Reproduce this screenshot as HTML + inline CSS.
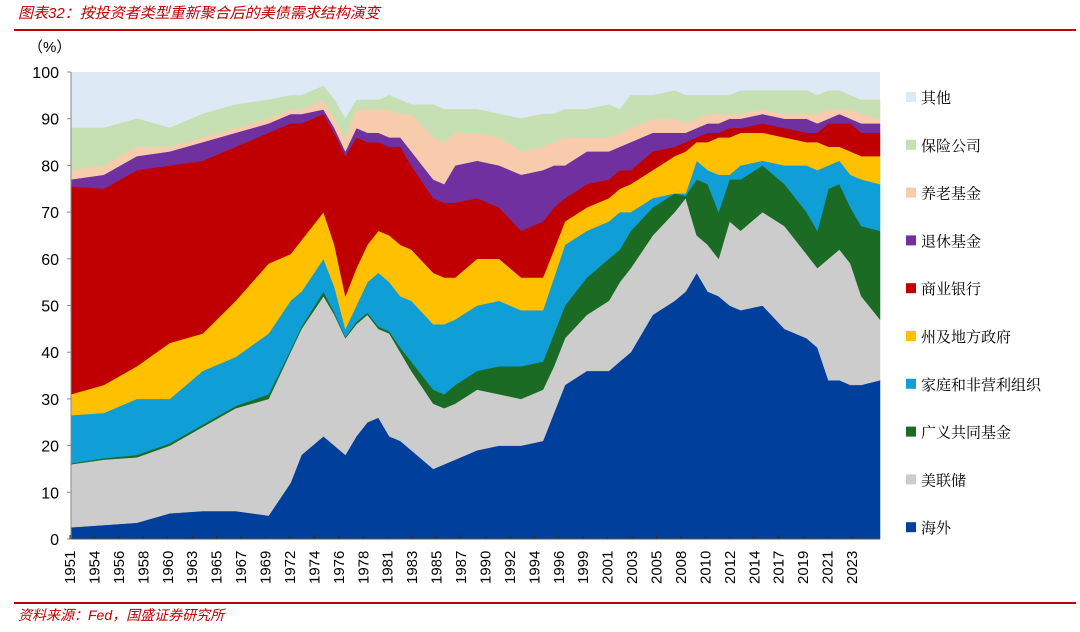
<!DOCTYPE html>
<html><head><meta charset="utf-8"><style>
body{margin:0;background:#fff;width:1080px;height:627px;overflow:hidden;font-family:"Liberation Sans","Noto Sans CJK SC",sans-serif}
</style></head><body>
<svg id="c" width="1080" height="627" xmlns="http://www.w3.org/2000/svg">
<text x="18" y="18" fill="#c00000" font-size="15" font-style="italic" font-family="Liberation Sans,Noto Sans CJK SC,sans-serif">图表32：按投资者类型重新聚合后的美债需求结构演变</text>
<line x1="14" y1="30" x2="1076" y2="30" stroke="#c00000" stroke-width="2"/>
<text x="28" y="52" font-size="15" fill="#000">（%）</text>
<line x1="14" y1="603" x2="1076" y2="603" stroke="#c00000" stroke-width="2"/>
<text x="18" y="620" fill="#c00000" font-size="14" font-style="italic">资料来源：Fed，国盛证券研究所</text>
<g id="plot"></g><g id="axes"></g><g id="legend"></g>
</svg>
<script>
const years=[1951,1954,1957,1960,1963,1966,1969,1971,1972,1974,1975,1976,1977,1978,1979,1980,1981,1982,1984,1985,1986,1988,1990,1992,1994,1995,1996,1998,2000,2001,2002,2004,2006,2007,2008,2009,2010,2011,2012,2014,2016,2018,2019,2020,2021,2022,2023,2024.7];
const foreign=[2.5,3,3.5,5.5,6,6,5,12,18,22,20,18,22,25,26,22,21,19,15,16,17,19,20,20,21,27,33,36,36,38,40,48,51,53,57,53,52,50,49,50,45,43,41,34,34,33,33,34];
const fed=[13.5,14,14,14.5,18,22,25,28,27,30,28,25,24,23,19,22,19,17,14,12,12,13,11,10,11,10,10,12,15,17,18,17,19,20,8,10,8,18,17,20,22,18,17,26,28,26,19,13];
const mutualFunds=[0.2,0.3,0.5,0.5,0.5,0.5,1,0.5,0.5,1,0.5,0.3,0.5,0.5,0.5,0.5,1,2,3,3,4,4,6,7,6,7,7,8,9,7,8,6,4,0.5,12,13,10,9,11,10,9,9,8,15,14,12,15,19];
const households=[10.3,9.7,12,9.5,11.5,10.5,13,10.5,7.5,7,5.5,1.7,3.5,6.5,11.5,10.5,11,13,14,15,14,14,14,12,11,12,13,10,8,8,4,2,0,0.5,4,3,8,1,3,1,4,10,13,5,5,7,10,10];
const stateLocal=[4.5,6,7,12,8,12,15,10,11,10,9,7,8,8,9,10,11,11,11,10,9,10,9,7,7,6,5,5,5,5,6,6,8,9,4,6,8,8,7,6,6,5,6,4,3,5,5,6];
const banks=[44.5,42,42,38,37,33,28,28,25,21,24,30,28,22,19,19,21,18,16,16,16,13,11,10,12,9,5,5,4,4,3,4,2,2,1,2,1,2,1,2,2,2,2,5,5,6,5,5];
const retirement=[1.5,3,3,3,4,3,2,2,2,1,1,1,2,2,2,2,2,3,4,4,8,8,9,12,11,9,7,7,6,5,6,4,3,2,2,2,2,2,2,2,2,3,2,1,2,1,2,2];
const pension=[2,2,2,1,1,1,1,1,1,2,2,3,4,5,5,6,5,8,9,9,7,6,6,5,5,5,6,3,3,3,3,3,3,2,2,2,2,1,1,1,1,1,2,2,1,2,2,1];
const insurance=[9,8,6,4,5,5,4,3,3,3,4,4,2,2,2,3,3,2,7,7,5,5,5,7,7,6,6,6,7,5,7,5,6,6,5,4,4,4,5,4,5,5,4,4,4,3,3,4];
const yTicks=[0,10,20,30,40,50,60,70,80,90,100];
const xLabels=["1951","1954","1956","1958","1960","1963","1965","1967","1969","1972","1974","1976","1978","1981","1983","1985","1987","1990","1992","1994","1996","1999","2001","2003","2005","2008","2010","2012","2014","2017","2019","2021","2023"];
const seriesNames=["海外","美联储","广义共同基金","家庭和非营利组织","州及地方政府","商业银行","退休基金","养老基金","保险公司","其他"];
const colors=["#003f9b","#cccccc","#1b6b24","#0f9ed5","#ffc000","#c00000","#7030a0","#f8cbad","#c6e0b4","#dde9f5"];
const slugs=["foreign","fed","mutual-funds","households","state-local","banks","retirement","pension","insurance","other"];
const NS="http://www.w3.org/2000/svg";
const X0=71,X1=880,Y0=539,Y1=72;
const xScale=y=>X0+(y-1951)/(2024.7-1951)*(X1-X0);
const yScale=v=>Y0-v/100*(Y0-Y1);
const plot=document.getElementById('plot'),axes=document.getElementById('axes'),legend=document.getElementById('legend');
function mk(tag,attrs,parent){const e=document.createElementNS(NS,tag);for(const k in attrs)e.setAttribute(k,attrs[k]);parent.appendChild(e);return e;}
const bg=mk('rect',{x:X0,y:Y1,width:X1-X0,height:Y0-Y1,fill:colors[9]},plot);


const series=[foreign,fed,mutualFunds,households,stateLocal,banks,retirement,pension,insurance];
let base=years.map(()=>0);
series.forEach((s,i)=>{
  const top=base.map((b,j)=>b+s[j]);
  let d='M'+years.map((y,j)=>xScale(y).toFixed(1)+','+yScale(top[j]).toFixed(1)).join('L');
  for(let j=years.length-1;j>=0;j--)d+='L'+xScale(years[j]).toFixed(1)+','+yScale(base[j]).toFixed(1);
  const p=mk('path',{d:d+'Z',fill:colors[i],stroke:colors[i],'stroke-width':0.5},plot);
  
  
  base=top;
});
mk('line',{x1:X0,y1:Y1,x2:X0,y2:Y0,stroke:'#888'},axes);
mk('line',{x1:X0,y1:Y0,x2:X1,y2:Y0,stroke:'#555'},axes);
yTicks.forEach(v=>{
  mk('line',{x1:X0-4,y1:yScale(v),x2:X0,y2:yScale(v),stroke:'#888'},axes);
  const t=mk('text',{x:X0-12,y:yScale(v)+6,'text-anchor':'end','font-size':16,fill:'#000'},axes);
  t.textContent=v;
  
  
});
const step=(852-70)/(xLabels.length-1);
xLabels.forEach((l,i)=>{
  const x=70+i*step;
  mk('line',{x1:x,y1:Y0,x2:x,y2:Y0-4,stroke:'#333'},axes);
  const t=mk('text',{x:0,y:0,transform:`translate(${x+5},584) rotate(-90)`,'font-size':15,fill:'#000'},axes);
  t.textContent=l;
  
  
});
const order=[9,8,7,6,5,4,3,2,1,0];
order.forEach((si,k)=>{
  const y=97+k*47.8;
  const g=mk('g',{},legend);
  
  
  mk('rect',{x:906,y:y-5,width:10,height:10,fill:colors[si]},g);
  const t=mk('text',{x:921,y:y+6,'font-size':15,fill:'#000','font-family':'Noto Serif CJK SC,serif'},g);
  t.textContent=seriesNames[si];
});
</script>
</body></html>
